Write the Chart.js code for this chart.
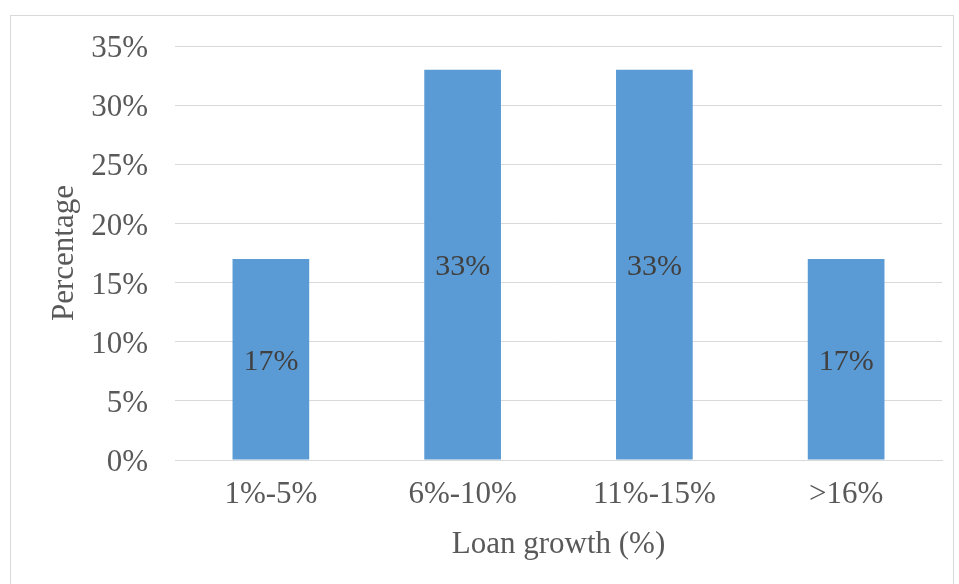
<!DOCTYPE html>
<html lang="en">
<head>
    <meta charset="UTF-8">
    <title>Loan growth</title>
    <script src="https://cdn.jsdelivr.net/npm/chart.js"></script>
    <style>
        body { margin: 0; background: #fff; }
        #wrap { width: 959px; height: 584px; }
    </style>
</head>
<body>
    <div id="wrap"><canvas id="loanChart" width="959" height="584"></canvas></div>

    <script>
    const categories = ['1%-5%', '6%-10%', '11%-15%', '>16%'];
    const percentages = [17, 33, 33, 17];
    const yTicks = [0, 5, 10, 15, 20, 25, 30, 35];

    const serif = '"Liberation Serif", "Times New Roman", serif';

    // light grey frame round the picture
    const framePlugin = {
        id: 'frame',
        beforeDraw(chart) {
            let ctx = chart.ctx;
            ctx.save();
            ctx.fillStyle = '#fff';
            ctx.fillRect(0, 0, chart.width, chart.height);
            ctx.strokeStyle = '#d9d9d9';
            ctx.lineWidth = 1;
            ctx.strokeRect(10.5, 15.5, 943, 600);
            ctx.restore();
        }
    };

    // value labels in the middle of each bar
    const barLabels = {
        id: 'barLabels',
        afterDatasetsDraw(chart) {
            let ctx = chart.ctx;
            let meta = chart.getDatasetMeta(0);
            ctx.save();
            ctx.font = '30px ' + serif;
            ctx.fillStyle = '#404040';
            ctx.textAlign = 'center';
            ctx.textBaseline = 'middle';
            meta.data.forEach((bar, i) => {
                let mid = (bar.y + bar.base) / 2 + 3;
                ctx.fillText(percentages[i] + '%', bar.x, mid);
            });
            ctx.restore();
        }
    };

    new Chart(document.getElementById('loanChart'), {
        type: 'bar',
        data: {
            labels: categories,
            datasets: [{
                data: percentages,
                backgroundColor: '#5b9bd5',
                categoryPercentage: 1,
                barPercentage: 0.4
            }]
        },
        options: {
            responsive: false,
            animation: false,
            layout: { padding: { left: 40, right: 17, top: 46, bottom: 20 } },
            plugins: { legend: { display: false }, tooltip: { enabled: false } },
            scales: {
                x: {
                    grid: { display: false, drawTicks: false },
                    border: { color: '#d9d9d9' },
                    ticks: { color: '#595959', font: { family: serif, size: 31 }, padding: 16 },
                    title: {
                        display: true, text: 'Loan growth (%)', color: '#595959',
                        font: { family: serif, size: 31 }, padding: { top: 0, bottom: 1 }
                    },
                    afterFit(scale) { scale.height = 104; }
                },
                y: {
                    min: 0, max: 35,
                    afterBuildTicks(scale) { scale.ticks = yTicks.map(v => ({ value: v })); },
                    grid: { color: '#d9d9d9', drawTicks: false },
                    border: { display: false },
                    ticks: {
                        color: '#595959', font: { family: serif, size: 31 }, padding: 27,
                        labelOffset: 3,
                        callback: v => v + '%'
                    },
                    title: {
                        display: true, text: 'Percentage', color: '#595959',
                        font: { family: serif, size: 31 }, padding: { top: 6, bottom: 0 }
                    },
                    afterFit(scale) { scale.width = 135; }
                }
            }
        },
        plugins: [framePlugin, barLabels]
    });
    </script>
</body>
</html>
